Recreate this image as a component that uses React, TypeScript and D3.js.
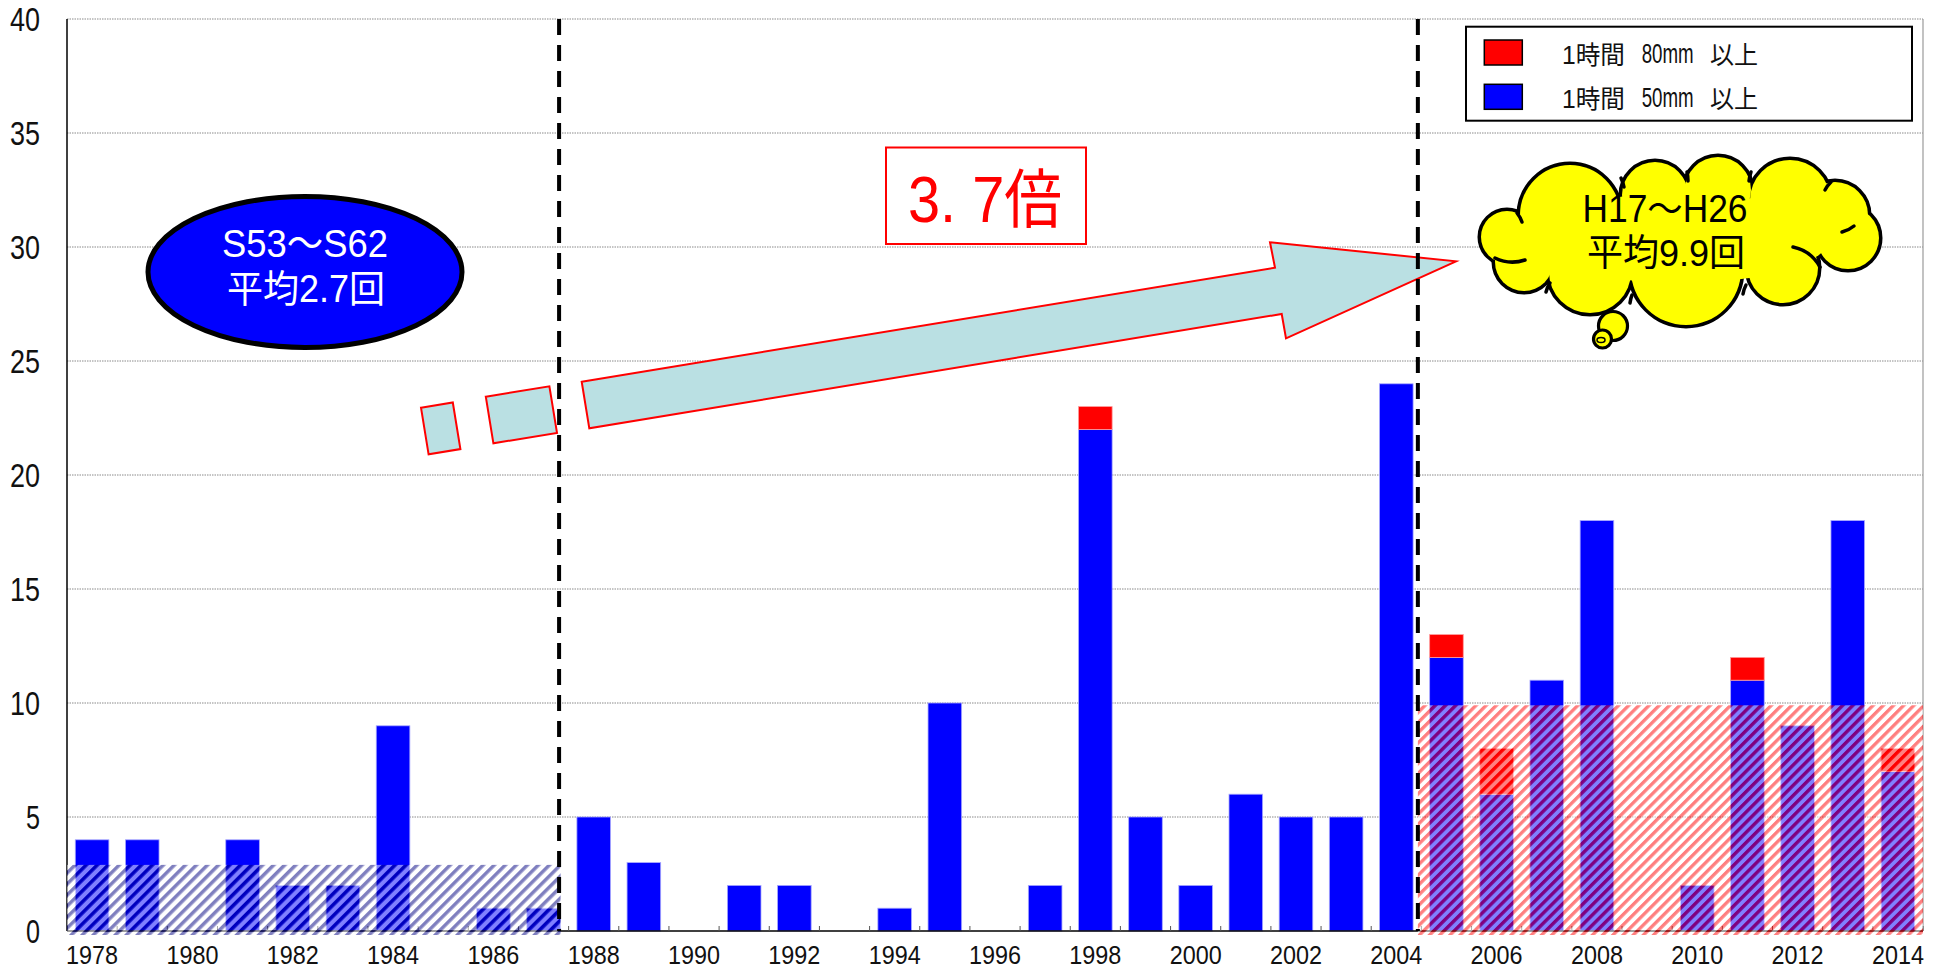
import React, { useEffect } from "react";
import * as d3 from "d3";

// ---------- data ----------
const years = [
  1978, 1979, 1980, 1981, 1982, 1983, 1984, 1985, 1986, 1987,
  1988, 1989, 1990, 1991, 1992, 1993, 1994, 1995, 1996, 1997,
  1998, 1999, 2000, 2001, 2002, 2003, 2004,
  2005, 2006, 2007, 2008, 2009, 2010, 2011, 2012, 2013, 2014,
];
// 1時間 50mm 以上 (blue part)
const over50 = [
  4, 4, 0, 4, 2, 2, 9, 0, 1, 1,
  5, 3, 0, 2, 2, 0, 1, 10, 0, 2,
  22, 5, 2, 6, 5, 5, 24,
  12, 6, 11, 18, 0, 2, 11, 9, 18, 7,
];
// 1時間 80mm 以上 (red part)
const over80 = [
  0, 0, 0, 0, 0, 0, 0, 0, 0, 0,
  0, 0, 0, 0, 0, 0, 0, 0, 0, 0,
  1, 0, 0, 0, 0, 0, 0,
  1, 2, 0, 0, 0, 0, 1, 0, 0, 1,
];
const yTicks = [0, 5, 10, 15, 20, 25, 30, 35, 40];
const xLabelYears = [1978, 1980, 1982, 1984, 1986, 1988, 1990, 1992, 1994, 1996, 1998, 2000, 2002, 2004, 2006, 2008, 2010, 2012, 2014];
const seriesKeys = ["over50", "over80"];
const seriesColors = ["#0000FF", "#FF0000"];
const legendLabels = [
  { color: "#FF0000", parts: ["1時間", "80mm", "以上"] },
  { color: "#0000FF", parts: ["1時間", "50mm", "以上"] },
];
const earlyAvgLabel = ["S53～S62", "平均2.7回"];
const lateAvgLabel = ["H17～H26", "平均9.9回"];
const ratioLabel = "3. 7倍";
const earlyHatchLevel = 2.9;
const lateHatchLevel = 9.9;

const FONT = "'Liberation Sans', 'Noto Sans CJK JP', 'Noto Sans', sans-serif";

export default function App() {
  useEffect(() => {
    document.body.style.margin = "0";
    document.body.style.overflow = "hidden";
  }, []);

  const W = 1937, H = 970;
  const left = 67, right = 1923, top = 19, bottom = 931;

  const x = d3.scaleBand<number>().domain(years).range([left, right]).paddingInner(0.33).paddingOuter(0.165);
  const y = d3.scaleLinear().domain([0, 40]).range([bottom, top]);
  const step = x.step();
  const bw = x.bandwidth();
  const xAt = (t: number) => left + t * step;

  const table = years.map((yr, i) => ({ year: yr, over50: over50[i], over80: over80[i] }));
  const stacked = d3.stack<any>().keys(seriesKeys)(table);

  // annotation geometry
  const dash1 = xAt(9.81);
  const dash2 = xAt(26.93);

  const arrowPts: [number, number][] = [
    [581.7, 381.7], [1275, 267.7], [1270, 242.3], [1456, 261.3],
    [1286, 338.3], [1281.7, 314], [589.3, 428.3],
  ];
  const rect1: [number, number][] = [[421, 407.7], [452.8, 402.5], [460.4, 449.1], [428.6, 454.3]];
  const rect2: [number, number][] = [[485.8, 396.7], [549.4, 386.3], [557, 432.9], [493.4, 443.3]];
  const poly = (p: [number, number][]) => p.map((d) => d.join(",")).join(" ");

  const cloudCircles = [
    [1507, 237, 26], [1524, 262, 29], [1570, 215, 50], [1655, 195, 33],
    [1718, 190, 33], [1790, 200, 40], [1835, 215, 33], [1848, 238, 31],
    [1783, 268, 35], [1686, 270, 55], [1590, 272, 41],
  ];
  const cloudArcs = [
    "M1517,213 a30,30 0 0 1 5,9",
    "M1495,258 a40,40 0 0 0 30,2",
    "M1546,292 a30,30 0 0 1 4,-9",
    "M1621,178 a40,40 0 0 1 3,9",
    "M1687,172 a40,40 0 0 1 1,9",
    "M1751,172 a40,40 0 0 0 -2,9",
    "M1831,182 a30,30 0 0 0 -6,8",
    "M1854,226 a30,30 0 0 1 -12,6",
    "M1793,247 a40,40 0 0 1 27,20",
    "M1743,294 a30,30 0 0 1 3,-9",
    "M1630,303 a30,30 0 0 1 2,-8",
  ];

  const gridColor = "#8a8a8a";
  const mmScale = 52 / (2.778 * 28);

  return (
    <svg width={W} height={H} style={{ position: "absolute", left: 0, top: 0, background: "#fff" }} fontFamily={FONT}>
      <defs>
        <pattern id="hatchBlue" patternUnits="userSpaceOnUse" width={7.8} height={7.8} patternTransform="rotate(45)">
          <rect x={0} y={0} width={3.6} height={7.8} fill="#000080" fillOpacity={0.5} />
          <rect x={3.6} y={0} width={4.2} height={7.8} fill="#ffffff" fillOpacity={0.5} />
        </pattern>
        <pattern id="hatchRed" patternUnits="userSpaceOnUse" width={7.2} height={7.2} patternTransform="rotate(45)">
          <rect x={0} y={0} width={3.4} height={7.2} fill="#FF0000" fillOpacity={0.5} />
          <rect x={3.4} y={0} width={3.8} height={7.2} fill="#ffffff" fillOpacity={0.5} />
        </pattern>
      </defs>

      <rect x={0} y={0} width={W} height={H} fill="#fff" />

      {/* gridlines */}
      {yTicks.filter((t) => t > 0).map((t) => (
        <line key={t} x1={left} x2={right} y1={y(t)} y2={y(t)} stroke={gridColor} strokeWidth={1} strokeDasharray="1.5 1" />
      ))}
      <line x1={right} x2={right} y1={top} y2={bottom} stroke="#9a9a9a" strokeWidth={1.2} />

      {/* bars */}
      {stacked.map((s, si) => (
        <g key={s.key} fill={seriesColors[si]}>
          {s.map((d: any, i: number) =>
            d[1] - d[0] > 0 ? (
              <rect key={i} x={x(years[i])} y={y(d[1])} width={bw} height={y(d[0]) - y(d[1])} stroke={si === 0 ? "#a8a8ff" : "#ff9a9a"} strokeWidth={0.8} />
            ) : null
          )}
        </g>
      ))}

      {/* axes */}
      <line x1={left} x2={right} y1={bottom} y2={bottom} stroke="#000" strokeWidth={1.5} />
      {years.map((_, i) => (
        <line key={i} x1={xAt(i + 1)} x2={xAt(i + 1)} y1={bottom} y2={bottom - 5} stroke="#555" strokeWidth={1} />
      ))}
      <line x1={left} x2={left} y1={top} y2={bottom} stroke="#000" strokeWidth={1.5} />

      {/* hatched averages */}
      <rect x={xAt(0)} y={y(earlyHatchLevel)} width={xAt(9.84) - xAt(0)} height={y(0) - y(earlyHatchLevel) + 4} fill="url(#hatchBlue)" />
      <rect x={dash2} y={y(lateHatchLevel)} width={right - dash2} height={y(0) - y(lateHatchLevel) + 4} fill="url(#hatchRed)" />

      {/* y labels */}
      {yTicks.map((t) => (
        <text key={t} x={40} y={y(t) + 11.8} textAnchor="end" fontSize={32.5} fill="#111"
          textLength={t >= 10 ? 30 : 14} lengthAdjust="spacingAndGlyphs">{t}</text>
      ))}
      {/* x labels */}
      {xLabelYears.map((yr) => (
        <text key={yr} x={(x(yr) as number) + bw / 2} y={964} textAnchor="middle" fontSize={26} fill="#111"
          textLength={52} lengthAdjust="spacingAndGlyphs">{yr}</text>
      ))}

      {/* arrow */}
      <polygon points={poly(rect1)} fill="#BAE0E3" stroke="#FF0000" strokeWidth={2} />
      <polygon points={poly(rect2)} fill="#BAE0E3" stroke="#FF0000" strokeWidth={2} />
      <polygon points={poly(arrowPts)} fill="#BAE0E3" stroke="#FF0000" strokeWidth={2} />

      {/* ratio box */}
      <rect x={886} y={147.5} width={200} height={96.5} fill="#fff" stroke="#FF0000" strokeWidth={2} />
      <text x={908} y={222} fontSize={64} fill="#FF0000" textLength={154} lengthAdjust="spacingAndGlyphs">{ratioLabel}</text>

      {/* dashed separators */}
      <line x1={dash1} x2={dash1} y1={top} y2={bottom} stroke="#000" strokeWidth={4} strokeDasharray="16 10" />
      <line x1={dash2} x2={dash2} y1={top} y2={bottom} stroke="#000" strokeWidth={4} strokeDasharray="16 10" />

      {/* early average ellipse */}
      <ellipse cx={305} cy={272} rx={157} ry={75.5} fill="#0000FF" stroke="#000" strokeWidth={5} />
      <text x={305} y={257} textAnchor="middle" fontSize={39} fill="#fff" textLength={166} lengthAdjust="spacingAndGlyphs">{earlyAvgLabel[0]}</text>
      <text x={306} y={302} textAnchor="middle" fontSize={38} fill="#fff" textLength={158} lengthAdjust="spacingAndGlyphs">{earlyAvgLabel[1]}</text>

      {/* thought cloud */}
      <g>
        {cloudCircles.map((c, i) => (
          <circle key={"s" + i} cx={c[0]} cy={c[1]} r={c[2]} fill="#FFFF00" stroke="#000" strokeWidth={7} />
        ))}
        {cloudCircles.map((c, i) => (
          <circle key={"f" + i} cx={c[0]} cy={c[1]} r={c[2]} fill="#FFFF00" />
        ))}
        <ellipse cx={1680} cy={238} rx={150} ry={45} fill="#FFFF00" />
        {cloudArcs.map((d, i) => (
          <path key={"a" + i} d={d} fill="none" stroke="#000" strokeWidth={3.5} strokeLinecap="round" />
        ))}
        <circle cx={1613} cy={326} r={14.5} fill="#FFFF00" stroke="#000" strokeWidth={3.2} />
        <circle cx={1602.5} cy={339} r={9} fill="#FFFF00" stroke="#000" strokeWidth={3.2} />
        <ellipse cx={1601} cy={340} rx={4} ry={2.5} fill="none" stroke="#000" strokeWidth={1.5} />
        <text x={1665} y={222} textAnchor="middle" fontSize={38} fill="#000" textLength={165} lengthAdjust="spacingAndGlyphs">{lateAvgLabel[0]}</text>
        <text x={1666} y={266} textAnchor="middle" fontSize={37} fill="#000" textLength={158} lengthAdjust="spacingAndGlyphs">{lateAvgLabel[1]}</text>
      </g>

      {/* legend */}
      <rect x={1466} y={26.7} width={446} height={94} fill="#fff" stroke="#000" strokeWidth={2} />
      {legendLabels.map((l, i) => {
        const cy = 52.5 + i * 44.3;
        return (
          <g key={i}>
            <rect x={1484.3} y={cy - 12.5} width={38} height={25} fill={l.color} stroke="#000" strokeWidth={1.5} />
            <text x={1562} y={cy + 11} fontSize={25} fill="#111" textLength={63} lengthAdjust="spacingAndGlyphs">{l.parts[0]}</text>
            <text transform={`translate(1641.7,${cy + 10}) scale(${mmScale},1)`} fontSize={28} fill="#111">{l.parts[1]}</text>
            <text x={1710} y={cy + 11} fontSize={25} fill="#111" textLength={48} lengthAdjust="spacingAndGlyphs">{l.parts[2]}</text>
          </g>
        );
      })}
    </svg>
  );
}
